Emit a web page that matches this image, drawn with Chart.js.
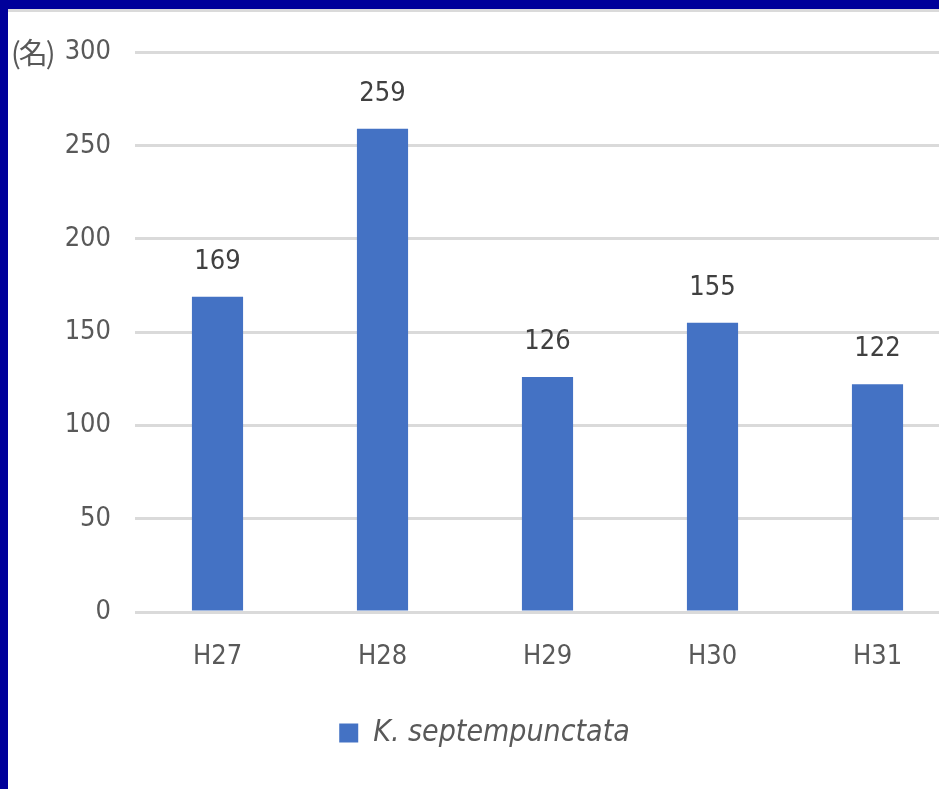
<!DOCTYPE html>
<html>
<head>
<meta charset="utf-8">
<script src="https://cdn.jsdelivr.net/npm/chart.js@4/dist/chart.umd.min.js"></script>
<style>
  html, body { margin: 0; padding: 0; }
  body { width: 939px; height: 789px; background: #00009a; position: relative; overflow: hidden; }
  #panel { position: absolute; left: 8px; top: 9px; width: 931px; height: 780px; background: #ffffff;
           border-top: 3px solid #dadada; box-sizing: border-box; overflow: hidden; }
  #wrap { position: absolute; left: 1px; top: 0px; width: 961px; height: 777px; }
  #unit { position: absolute; left: 3px; top: 22px; font-family: 'Noto Sans CJK JP', sans-serif;
          font-size: 29px; line-height: 34px; color: #595959; letter-spacing: -2px; }
</style>
</head>
<body>
<div id="panel">
  <div id="wrap"><canvas id="c" width="961" height="777"></canvas></div>
  <div id="unit">(名)</div>
</div>
<script>
const categories = ['H27', 'H28', 'H29', 'H30', 'H31'];
const seriesName = 'K. septempunctata';
const seriesValues = [169, 259, 126, 155, 122];
const yTicks = [0, 50, 100, 150, 200, 250, 300];

const FONT = "'Liberation Sans Narrow', 'DejaVu Sans Condensed', 'Roboto Condensed', sans-serif";

const valueLabels = {
  id: 'valueLabels',
  afterDatasetsDraw(chart) {
    const ctx = chart.ctx;
    ctx.save();
    ctx.font = '27px ' + FONT;
    ctx.fillStyle = '#404040';
    ctx.textAlign = 'center';
    ctx.textBaseline = 'middle';
    chart.getDatasetMeta(0).data.forEach((bar, i) => {
      ctx.fillText(String(chart.data.datasets[0].data[i]), bar.x, bar.y - 35);
    });
    ctx.restore();
  }
};

new Chart(document.getElementById('c'), {
  type: 'bar',
  data: {
    labels: categories,
    datasets: [{
      label: seriesName,
      data: seriesValues,
      backgroundColor: '#4472c4',
      borderWidth: 0,
      barPercentage: 0.31,
      categoryPercentage: 1.0
    }]
  },
  options: {
    responsive: false,
    animation: false,
    devicePixelRatio: 1,
    layout: { padding: { top: 39, bottom: 31, left: 0, right: 10 } },
    plugins: {
      tooltip: { enabled: false },
      legend: {
        position: 'bottom',
        labels: {
          font: { family: FONT, size: 30, style: 'italic' },
          color: '#595959',
          boxWidth: 19,
          boxHeight: 19,
          padding: 10
        }
      }
    },
    scales: {
      x: {
        grid: { display: false, drawTicks: false },
        border: { display: false },
        ticks: { font: { family: FONT, size: 27 }, color: '#595959', padding: 29 },
        afterFit(scale) { scale.height = 96; }
      },
      y: {
        min: yTicks[0],
        max: yTicks[yTicks.length - 1],
        afterBuildTicks(scale) { scale.ticks = yTicks.map(v => ({ value: v })); },
        grid: { color: '#dadada', lineWidth: 3, drawTicks: false },
        border: { display: false },
        ticks: { font: { family: FONT, size: 27 }, color: '#595959', padding: 24 },
        afterFit(scale) { scale.width = 126; }
      }
    }
  },
  plugins: [valueLabels]
});
</script>
</body>
</html>
